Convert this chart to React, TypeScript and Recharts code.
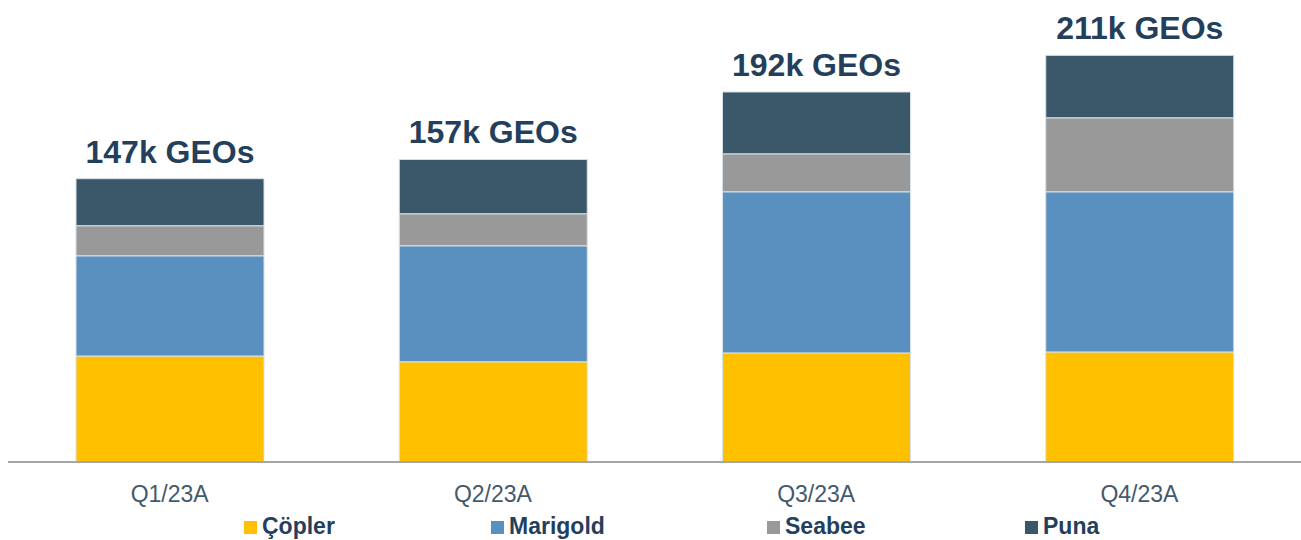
import { BarChart, Bar, XAxis, YAxis, LabelList, Legend } from 'recharts'

const quarters = ['Q1/23A', 'Q2/23A', 'Q3/23A', 'Q4/23A']
const copler = [55, 52, 56.6, 57.1]
const marigold = [52, 60.2, 83.6, 83.1]
const seabee = [15.6, 16.6, 19.7, 38.4]
const puna = [24.4, 28.2, 32.1, 32.4]
const totals = [147, 157, 192, 211]

const SERIES = [
  { key: 'copler', name: 'Çöpler', color: '#FFC000' },
  { key: 'marigold', name: 'Marigold', color: '#5A90BF' },
  { key: 'seabee', name: 'Seabee', color: '#999999' },
  { key: 'puna', name: 'Puna', color: '#3B586B' },
]

const LEGEND_X = [244, 491, 767, 1025]

const data = quarters.map((q, i) => ({
  quarter: q,
  copler: copler[i],
  marigold: marigold[i],
  seabee: seabee[i],
  puna: puna[i],
  total: totals[i],
}))

const FONT = '"Liberation Sans", Arial, sans-serif'

function TotalLabel(props: any) {
  const { x, y, width, value } = props
  return (
    <text
      x={x + width / 2}
      y={y - 27}
      textAnchor="middle"
      dominantBaseline="central"
      fill="#243F5C"
      fontSize={32}
      fontWeight="bold"
      fontFamily={FONT}
    >
      {`${value}k GEOs`}
    </text>
  )
}

function LegendContent() {
  return (
    <div style={{ position: 'relative', width: 1301, height: 26 }}>
      {SERIES.map((s, i) => (
        <div
          key={s.key}
          style={{
            position: 'absolute',
            left: LEGEND_X[i],
            top: 0,
            display: 'flex',
            alignItems: 'center',
            fontFamily: FONT,
            fontWeight: 'bold',
            fontSize: 23,
            color: '#243F5C',
            lineHeight: '26px',
          }}
        >
          <span
            style={{
              display: 'inline-block',
              width: 13,
              height: 13,
              background: s.color,
              marginRight: 5,
              marginTop: 3,
            }}
          />
          {s.name}
        </div>
      ))}
    </div>
  )
}

export default function App() {
  return (
    <div style={{ position: 'absolute', left: 0, top: 0, width: 1301, height: 540, background: '#fff' }}>
      <BarChart
        width={1301}
        height={540}
        data={data}
        margin={{ top: 38, right: 0, left: 8, bottom: 38 }}
      >
        <XAxis
          dataKey="quarter"
          height={40}
          tickLine={false}
          axisLine={{ stroke: '#A6A6A6', strokeWidth: 2 }}
          tick={{ fill: '#44596B', fontSize: 23, fontFamily: FONT }}
          tickMargin={18}
          interval={0}
        />
        <YAxis hide domain={[0, 220]} />
        <Legend
          layout="horizontal"
          verticalAlign="middle"
          align="center"
          wrapperStyle={{ top: 513, left: 0, width: 1301 }}
          content={<LegendContent />}
        />
        {SERIES.map((s, i) => (
          <Bar
            key={s.key}
            dataKey={s.key}
            name={s.name}
            stackId="a"
            fill={s.color}
            stroke="#D9E1E8"
            strokeWidth={1}
            barSize={188}
            isAnimationActive={false}
          >
            {i === SERIES.length - 1 && (
              <LabelList dataKey="total" content={<TotalLabel />} />
            )}
          </Bar>
        ))}
      </BarChart>
    </div>
  )
}
